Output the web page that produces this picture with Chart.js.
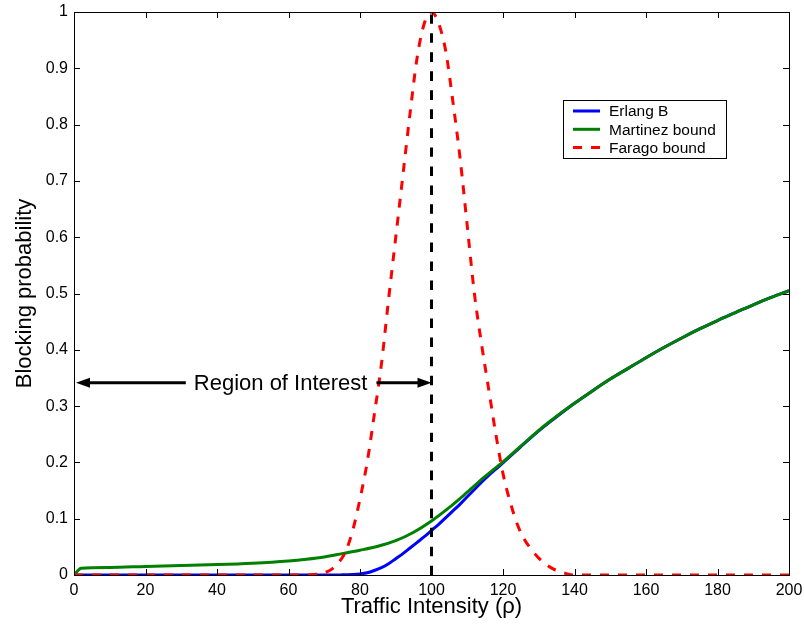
<!DOCTYPE html>
<html>
<head>
<meta charset="utf-8">
<script src="https://cdn.jsdelivr.net/npm/chart.js@4"></script>
<style>
  html, body { margin: 0; padding: 0; background: #fff; }
  #wrap { width: 804px; height: 624px; }
</style>
</head>
<body>
<div id="wrap"><canvas id="chart" width="804" height="624"></canvas></div>
<script>
// traffic intensity (rho) samples for each curve
const rhoErlang = [0, 20, 40, 60, 70, 74, 76, 78, 80, 82, 84, 86, 88, 90, 92, 94, 96, 98, 100,
  102, 104, 106, 108, 110, 112, 114, 116, 118, 120, 125, 130, 135, 140, 145, 150, 155, 160,
  165, 170, 175, 180, 185, 190, 195, 200];
const erlangB = [0, 0, 0, 0, 0, 0, 0.0005, 0.001, 0.002, 0.004, 0.008, 0.013, 0.02, 0.029, 0.038,
  0.048, 0.058, 0.068, 0.079, 0.09, 0.102, 0.114, 0.126, 0.139, 0.152, 0.165, 0.177, 0.188, 0.199,
  0.228, 0.256, 0.281, 0.305, 0.327, 0.348, 0.367, 0.386, 0.404, 0.421, 0.437, 0.452, 0.466,
  0.48, 0.493, 0.505];

const rhoMartinez = [0, 2, 10, 20, 30, 40, 50, 60, 65, 70, 75, 80, 85, 90, 95, 100, 105, 110,
  115, 120, 125, 130, 135, 140, 145, 150, 155, 160, 165, 170, 175, 180, 185, 190, 195, 200];
const martinez = [0, 0.012, 0.0135, 0.0152, 0.0168, 0.0185, 0.021, 0.025, 0.028, 0.032, 0.038,
  0.044, 0.051, 0.061, 0.076, 0.096, 0.12, 0.147, 0.175, 0.201, 0.229, 0.257, 0.282, 0.305,
  0.327, 0.348, 0.367, 0.386, 0.404, 0.421, 0.437, 0.452, 0.466, 0.48, 0.493, 0.505];

const rhoFarago = [0, 20, 40, 60, 65, 67, 70, 72, 74, 76, 78, 80, 82, 84, 86, 88, 90, 92, 94, 96,
  98, 100, 102, 104, 106, 108, 110, 112, 114, 116, 118, 120, 122, 124, 126, 128, 130, 132, 134,
  136, 138, 140, 160, 180, 200];
const farago = [0, 0, 0, 0, 0, 0.001, 0.004, 0.01, 0.022, 0.042, 0.08, 0.135, 0.2, 0.285, 0.375,
  0.49, 0.6, 0.71, 0.82, 0.92, 0.98, 1, 0.98, 0.93, 0.84, 0.74, 0.62, 0.5, 0.41, 0.33, 0.25,
  0.18, 0.13, 0.09, 0.063, 0.045, 0.03, 0.019, 0.011, 0.006, 0.002, 0, 0, 0, 0];

// N = 100 marker and the region annotation
const markerRho = 100;
const roiLabel = 'Region of Interest';
const roiY = 0.3416;
const roiLabelRho = 57.8;

const xTicks = [0, 20, 40, 60, 80, 100, 120, 140, 160, 180, 200];
const yTicks = [0, 0.1, 0.2, 0.3, 0.4, 0.5, 0.6, 0.7, 0.8, 0.9, 1];

const FONT = "'Liberation Sans', Arial, Helvetica, sans-serif";

const toPoints = (xs, ys) => xs.map((x, i) => ({ x: x, y: ys[i] }));

// box around the axes with inward ticks on every side
const framePlugin = {
  id: 'frame',
  afterDatasetsDraw(chart) {
    const { ctx, chartArea: a, scales: { x, y } } = chart;
    const len = 6;
    ctx.save();
    ctx.strokeStyle = '#000';
    ctx.lineWidth = 1;
    ctx.strokeRect(Math.round(a.left) + 0.5, Math.round(a.top) + 0.5,
      Math.round(a.right - a.left), Math.round(a.bottom - a.top));
    ctx.beginPath();
    xTicks.forEach(v => {
      const px = Math.round(x.getPixelForValue(v)) + 0.5;
      ctx.moveTo(px, a.bottom); ctx.lineTo(px, a.bottom - len);
      ctx.moveTo(px, a.top); ctx.lineTo(px, a.top + len);
    });
    yTicks.forEach(v => {
      const py = Math.round(y.getPixelForValue(v)) + 0.5;
      ctx.moveTo(a.left, py); ctx.lineTo(a.left + len, py);
      ctx.moveTo(a.right, py); ctx.lineTo(a.right - len, py);
    });
    ctx.stroke();
    ctx.restore();
  }
};

function arrowHead(ctx, tipX, tipY, dir) {
  ctx.beginPath();
  ctx.moveTo(tipX, tipY);
  ctx.lineTo(tipX - dir * 14, tipY - 5);
  ctx.lineTo(tipX - dir * 14, tipY + 5);
  ctx.closePath();
  ctx.fill();
}

// double arrow with text between x = 0 and the marker line
const regionPlugin = {
  id: 'region',
  afterDatasetsDraw(chart) {
    const { ctx, scales: { x, y } } = chart;
    const py = y.getPixelForValue(roiY);
    const cx = x.getPixelForValue(roiLabelRho);
    ctx.save();
    ctx.font = '22px ' + FONT;
    ctx.fillStyle = '#000';
    ctx.strokeStyle = '#000';
    ctx.textAlign = 'center';
    ctx.textBaseline = 'middle';
    ctx.fillText(roiLabel, cx, py + 1);
    const half = ctx.measureText(roiLabel).width / 2;
    const x0 = x.getPixelForValue(0) + 2;
    const x1 = x.getPixelForValue(markerRho);
    ctx.lineWidth = 3;
    ctx.beginPath();
    ctx.moveTo(cx - half - 8, py); ctx.lineTo(x0 + 10, py);
    ctx.moveTo(cx + half + 9, py); ctx.lineTo(x1 - 10, py);
    ctx.stroke();
    arrowHead(ctx, x0, py, -1);
    arrowHead(ctx, x1, py, 1);
    ctx.restore();
  }
};

// boxed legend inside the plot, upper right
const legendPlugin = {
  id: 'boxLegend',
  afterDraw(chart) {
    const { ctx } = chart;
    const left = 563.5, top = 100.5, w = 163, h = 58;
    ctx.save();
    ctx.fillStyle = '#fff';
    ctx.fillRect(left, top, w, h);
    ctx.strokeStyle = '#000';
    ctx.lineWidth = 1;
    ctx.strokeRect(left, top, w, h);
    ctx.font = '15.5px ' + FONT;
    ctx.textBaseline = 'middle';
    chart.data.datasets.slice(0, 3).forEach((ds, i) => {
      const ry = 111 + i * 18.3;
      ctx.strokeStyle = ds.borderColor;
      ctx.lineWidth = 3;
      ctx.setLineDash(ds.borderDash || []);
      ctx.beginPath();
      ctx.moveTo(573, ry); ctx.lineTo(600, ry);
      ctx.stroke();
      ctx.setLineDash([]);
      ctx.fillStyle = '#000';
      ctx.fillText(ds.label, 609, ry + 1);
    });
    ctx.restore();
  }
};

const ctx = document.getElementById('chart').getContext('2d');
new Chart(ctx, {
  type: 'line',
  data: {
    datasets: [
      {
        label: 'Erlang B',
        data: toPoints(rhoErlang, erlangB),
        borderColor: '#0000ff',
        borderWidth: 3,
        order: 4,
      },
      {
        label: 'Martinez bound',
        data: toPoints(rhoMartinez, martinez),
        borderColor: '#008000',
        borderWidth: 3,
        order: 3,
      },
      {
        label: 'Farago bound',
        data: toPoints(rhoFarago, farago),
        borderColor: '#ff0000',
        borderWidth: 3,
        borderDash: [9, 9],
        order: 2,
      },
      {
        label: 'N',
        data: [{ x: markerRho, y: 0 }, { x: markerRho, y: 1 }],
        borderColor: '#000',
        borderWidth: 3,
        borderDash: [9.5, 9.5],
        order: 1,
      },
    ],
  },
  options: {
    responsive: false,
    animation: false,
    events: [],
    layout: { padding: { left: 0, right: 15, top: 12, bottom: 0 } },
    elements: {
      point: { radius: 0 },
      line: { cubicInterpolationMode: 'monotone', fill: false },
    },
    plugins: {
      legend: { display: false },
      tooltip: { enabled: false },
    },
    scales: {
      x: {
        type: 'linear',
        min: 0,
        max: 200,
        afterBuildTicks: s => { s.ticks = xTicks.map(v => ({ value: v })); },
        afterFit: s => { s.height = 49; s.paddingLeft = 0; s.paddingRight = 0; },
        grid: { display: false, drawTicks: false },
        border: { display: false },
        ticks: { color: '#000', padding: 6, font: { family: FONT, size: 16 }, maxRotation: 0 },
        title: {
          display: true,
          text: 'Traffic Intensity (ρ)',
          color: '#000',
          font: { family: FONT, size: 22 },
          padding: { top: 0, bottom: 4 },
        },
      },
      y: {
        min: 0,
        max: 1,
        afterBuildTicks: s => { s.ticks = yTicks.map(v => ({ value: v })); },
        afterFit: s => { s.width = 74; s.paddingTop = 0; s.paddingBottom = 0; },
        grid: { display: false, drawTicks: false },
        border: { display: false },
        ticks: {
          color: '#000',
          padding: 6,
          font: { family: FONT, size: 16 },
          callback: v => String(+v.toFixed(1)),
        },
        title: {
          display: true,
          text: 'Blocking probability',
          color: '#000',
          font: { family: FONT, size: 22 },
          padding: { top: 12, bottom: 0 },
        },
      },
    },
  },
  plugins: [framePlugin, regionPlugin, legendPlugin],
});
</script>
</body>
</html>
